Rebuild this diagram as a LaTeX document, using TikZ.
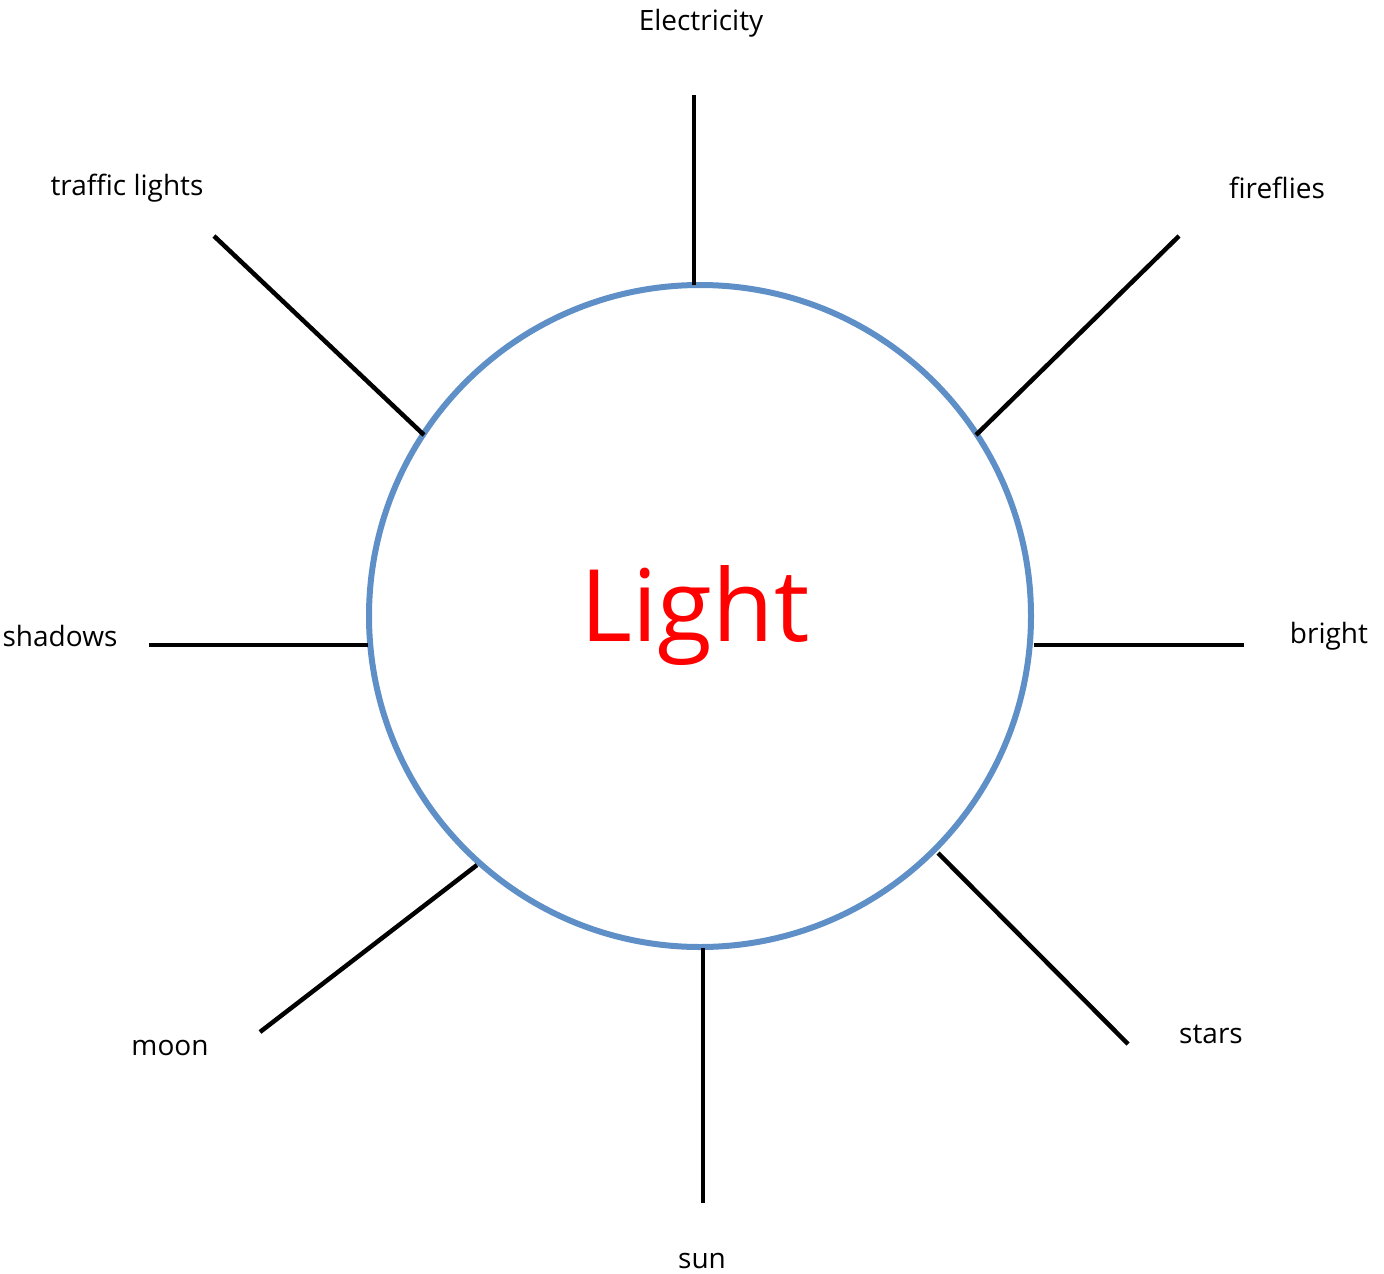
\documentclass[tikz,border=0pt]{standalone}
\usepackage{fontspec}
\setmainfont{Open Sans}
\definecolor{ringblue}{RGB}{95,143,199}
\begin{document}
\begin{tikzpicture}[x=1pt,y=-1pt,
  spoke/.style={line width=4.5pt,black},
  lbl/.style={font=\fontsize{28}{32}\selectfont,text=black,inner sep=0pt,anchor=center}]
\useasboundingbox (0,0) rectangle (1384,1274);
\node[circle,draw=ringblue,line width=6pt,minimum size=662pt,inner sep=0pt] (c) at (700,616) {};
\node[text=red,font=\fontsize{100}{110}\selectfont] (light) at (695,616) {Light};
% spoke ends
\coordinate (eO) at (694,95);   \coordinate (eI) at (694,285);
\coordinate (fO) at (1179,236); \coordinate (fI) at (976,435);
\coordinate (tO) at (214,236);  \coordinate (tI) at (424,435);
\coordinate (shO) at (149,645); \coordinate (shI) at (368,645);
\coordinate (bO) at (1244,645); \coordinate (bI) at (1034,645);
\coordinate (mO) at (260,1032); \coordinate (mI) at (477,865);
\coordinate (suO) at (703,1203);\coordinate (suI) at (703,948);
\coordinate (stO) at (1128,1044);\coordinate (stI) at (938,853);
\draw[spoke] (eI) -- (eO);
\draw[spoke] (fI) -- (fO);
\draw[spoke] (tI) -- (tO);
\draw[spoke] (shI) -- (shO);
\draw[spoke] (bI) -- (bO);
\draw[spoke] (mI) -- (mO);
\draw[spoke] (suI) -- (suO);
\draw[spoke] (stI) -- (stO);
\node[lbl] (le) at (701,23) {Electricity};
\node[lbl] (lt) at (127,188) {traffic lights};
\node[lbl] (lf) at (1277,188) {fireflies};
\node[lbl] (lsh) at (60,636) {shadows};
\node[lbl] (lb) at (1329,636) {bright};
\node[lbl] (lm) at (170,1048) {moon};
\node[lbl] (lst) at (1211,1034) {stars};
\node[lbl] (lsu) at (702,1261) {sun};
\end{tikzpicture}
\end{document}
